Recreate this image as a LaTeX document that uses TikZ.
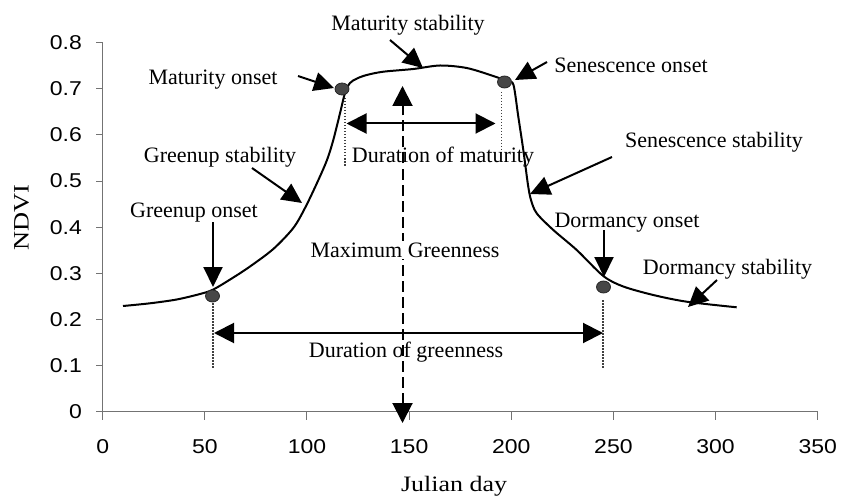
\documentclass[tikz,border=0pt]{standalone}
\usepackage{fontspec}
\usepackage{graphicx}
\setmainfont{Liberation Serif}
\newfontfamily\axisfont{Liberation Sans}
\usetikzlibrary{arrows.meta,shapes.geometric}
\begin{document}
\begin{tikzpicture}[x=1pt,y=-1pt,
  lbl/.style={font=\fontsize{22}{24}\selectfont, inner sep=0pt, anchor=center},
  ticklbl/.style={font=\axisfont\fontsize{20}{22}\selectfont, inner sep=0pt},
  axisline/.style={draw=black!55, line width=1pt},
  ptr/.style={line width=2pt, -{Triangle[length=20pt,width=19pt]}},
  dbl/.style={line width=2pt, {Triangle[length=20pt,width=20pt]}-{Triangle[length=20pt,width=20pt]}},
  guide/.style={line width=1.5pt, dash pattern=on 1.5pt off 1.5pt, draw=black!75},
  phen/.style={ellipse, draw=black!85, line width=0.8pt, fill=black!72, minimum width=14pt, minimum height=12pt, inner sep=0pt}]
\path[use as bounding box] (0,0) rectangle (842,497);

% axes
\draw[axisline] (102.7,42.7) -- (102.7,411.7) -- (817.7,411.7);
\foreach \i in {0,...,8}{
  \pgfmathsetmacro{\yy}{411.7-46.125*\i}
  \pgfmathsetmacro{\lab}{\i/10}
  \draw[axisline] (96,\yy) -- (102.7,\yy);
  \node[ticklbl, anchor=east] (yt\i) at (82,\yy) {\scalebox{1.15}[1]{\ifnum\i=0 0\else 0.\i\fi}};
}
\foreach \i/\t in {0/0,1/50,2/100,3/150,4/200,5/250,6/300,7/350}{
  \pgfmathsetmacro{\xx}{102.7+102.143*\i}
  \draw[axisline] (\xx,411.7) -- (\xx,420);
  \node[ticklbl] (xt\i) at (\xx,446.5) {\scalebox{1.15}[1]{\t}};
}
\node[lbl, rotate=90] (ndvi) at (21.7,218) {\scalebox{1.2}[1]{NDVI}};
\node[lbl] (jday) at (454,486) {\scalebox{1.18}[1]{Julian day}};

% guide lines
\coordinate (g1a) at (213,303); \coordinate (g1b) at (213,368);
\coordinate (g2a) at (345,98);  \coordinate (g2b) at (345,166);
\coordinate (g3a) at (501.7,92); \coordinate (g3b) at (501.7,155);
\coordinate (g4a) at (603,300); \coordinate (g4b) at (603,368);
\draw[guide] (g1a) -- (g1b);
\draw[guide] (g2a) -- (g2b);
\draw[guide] (g3a) -- (g3b);
\draw[guide] (g4a) -- (g4b);

% maximum greenness dashed arrow
\coordinate (mgt) at (402.5,86);
\coordinate (mgb) at (402.5,423);
\draw[dbl, dash pattern=on 11pt off 5pt] (mgb) -- (mgt);
\node[lbl, fill=white, inner sep=2pt] (mg) at (405,250) {Maximum Greenness};

% NDVI curve
\draw[line width=2pt, line join=round] plot[smooth, tension=0.5] coordinates {
 (123,306) (150,303.3) (176.7,299.5) (200,294) (213.3,289.5) (233.3,277.5)
 (250,266.5) (273.3,249) (293.3,228) (305,208) (317,183) (327,160)
 (333.3,140) (340,113.3) (345,93) (350,83) (357,78.5) (366.7,75)
 (383.3,71.7) (413.3,69) (440,65.5) (466.7,68) (493.3,76) (508,81.5)
 (513.5,85) (518.3,116.7) (523.3,150) (528,185) (531,200) (536.7,213.3)
 (553.3,230) (576.7,250) (603.3,276) (623.3,286.5) (653.3,295)
 (686.7,301.7) (736.7,307.3)};

% phenology points
\node[phen] (p1) at (212.5,296) {};
\node[phen] (p2) at (342,89) {};
\node[phen] (p3) at (504.5,82) {};
\node[phen] (p4) at (603.5,287) {};

% duration arrows
\coordinate (dm1) at (346.5,123.5); \coordinate (dm2) at (495.5,123.5);
\draw[dbl] (dm1) -- (dm2);
\coordinate (dg1) at (214,333); \coordinate (dg2) at (603,333);
\draw[dbl] (dg1) -- (dg2);
\node[lbl] (dml) at (443,157) {Duration of maturity};
\node[lbl] (dgl) at (406,352) {Duration of greenness};

% labels
\node[lbl] (ms) at (408,25) {Maturity stability};
\node[lbl] (mo) at (213,80) {Maturity onset};
\node[lbl] (gs) at (220,157) {Greenup stability};
\node[lbl] (so) at (631,65) {Senescence onset};
\node[lbl] (ss) at (714,142) {Senescence stability};
\node[lbl] (go) at (194,213) {Greenup onset};
\node[lbl] (do) at (627,223) {Dormancy onset};
\node[lbl] (ds) at (727.5,269) {Dormancy stability};

% pointers
\coordinate (msA) at (390,40);  \coordinate (msB) at (423,68);
\coordinate (moA) at (298,76);  \coordinate (moB) at (334,88);
\coordinate (gsA) at (252,168); \coordinate (gsB) at (302,203);
\coordinate (soA) at (547,62);  \coordinate (soB) at (515,80);
\coordinate (ssA) at (612,157); \coordinate (ssB) at (530,194);
\coordinate (goA) at (213,222); \coordinate (goB) at (213,287);
\coordinate (doA) at (604,230); \coordinate (doB) at (604,277);
\coordinate (dsA) at (717,280); \coordinate (dsB) at (688,307);
\draw[ptr] (msA) -- (msB);
\draw[ptr] (moA) -- (moB);
\draw[ptr] (gsA) -- (gsB);
\draw[ptr] (soA) -- (soB);
\draw[ptr] (ssA) -- (ssB);
\draw[ptr] (goA) -- (goB);
\draw[ptr] (doA) -- (doB);
\draw[ptr] (dsA) -- (dsB);
\end{tikzpicture}
\end{document}
